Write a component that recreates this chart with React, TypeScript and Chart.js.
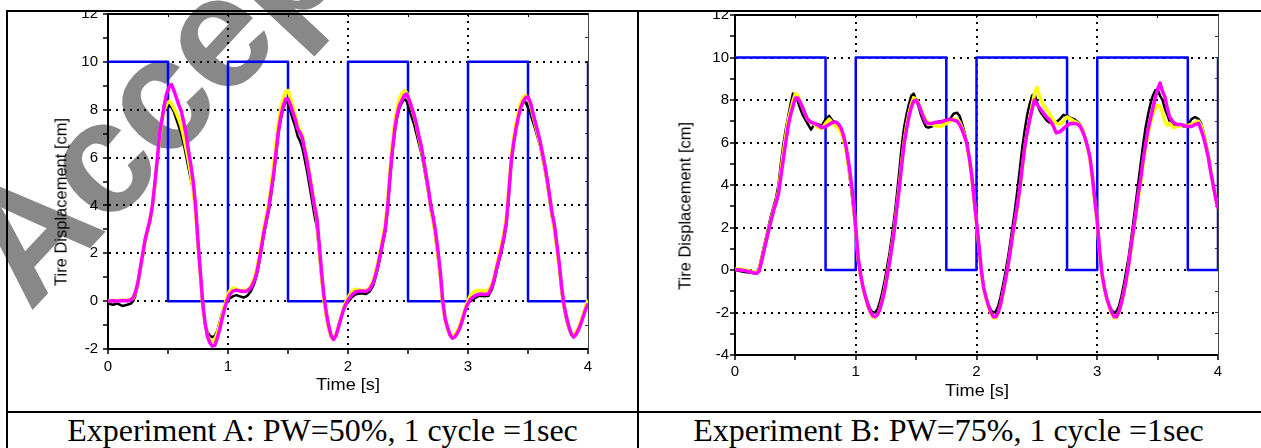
import React, { useEffect, useRef } from 'react';
import { Chart, registerables } from 'chart.js';
Chart.register(...registerables);

// ---------- Experiment A (PW = 50%) ----------
const timeA = [
  0, 0.04, 0.08, 0.12, 0.16, 0.19, 0.21, 0.23, 0.25, 0.27, 0.29, 0.31, 0.33, 0.35, 0.37, 0.39, 0.41, 0.43, 0.45, 0.47,
  0.49, 0.51, 0.53, 0.55, 0.57, 0.59, 0.61, 0.63, 0.65, 0.67, 0.69, 0.71, 0.73, 0.75, 0.77, 0.79, 0.81, 0.83, 0.85, 0.87,
  0.89, 0.91, 0.93, 0.95, 0.97, 0.99,
  1.01, 1.04, 1.07, 1.1, 1.13, 1.16, 1.19, 1.22, 1.24, 1.26, 1.28, 1.3, 1.32, 1.34, 1.36, 1.38, 1.4, 1.42, 1.44, 1.46,
  1.48, 1.5, 1.52, 1.54, 1.56, 1.58, 1.6, 1.62, 1.64, 1.66, 1.68, 1.7, 1.72, 1.74, 1.76, 1.78, 1.8, 1.82, 1.84, 1.86,
  1.88, 1.9, 1.92, 1.94, 1.96, 1.98,
  2.0, 2.03, 2.06, 2.09, 2.12, 2.15, 2.18, 2.21, 2.23, 2.25, 2.27, 2.29, 2.31, 2.33, 2.35, 2.37, 2.39, 2.41, 2.43, 2.45,
  2.47, 2.49, 2.51, 2.53, 2.55, 2.57, 2.59, 2.61, 2.63, 2.65, 2.67, 2.69, 2.71, 2.73, 2.75, 2.77, 2.79, 2.81, 2.83, 2.85,
  2.87, 2.89, 2.91, 2.93, 2.95, 2.97, 2.99,
  3.02, 3.05, 3.08, 3.11, 3.14, 3.17, 3.2, 3.22, 3.24, 3.26, 3.28, 3.3, 3.32, 3.34, 3.36, 3.38, 3.4, 3.42, 3.44, 3.46,
  3.48, 3.5, 3.52, 3.54, 3.56, 3.58, 3.6, 3.62, 3.64, 3.66, 3.68, 3.7, 3.72, 3.74, 3.76, 3.78, 3.8, 3.82, 3.84, 3.86,
  3.88, 3.9, 3.92, 3.94, 3.96, 3.98, 4.0,
];
const magentaA = [
  0.0, 0.02, 0.0, 0.03, 0.02, 0.05, 0.15, 0.4, 0.8, 1.4, 2.0, 2.6, 3.0, 3.4, 4.0, 4.9, 5.9, 7.0, 7.6, 8.2,
  8.7, 8.95, 9.05, 8.8, 8.5, 8.2, 7.95, 7.5, 7.0, 6.3, 5.7, 5.0, 4.0, 2.5, 1.2, -0.1, -0.95, -1.5, -1.75, -1.88,
  -1.85, -1.55, -1.2, -0.75, -0.35, 0.0,
  0.25, 0.42, 0.46, 0.42, 0.4, 0.43, 0.55, 0.85, 1.2, 1.7, 2.3, 2.9, 3.4, 3.9, 4.6, 5.3, 6.2, 7.1, 7.7, 8.15,
  8.45, 8.45, 8.2, 7.9, 7.6, 7.2, 7.05, 6.8, 6.3, 5.8, 5.2, 4.6, 4.0, 3.5, 2.4, 1.2, 0.2, -0.5, -1.05, -1.45,
  -1.6, -1.45, -1.1, -0.75, -0.4, -0.15,
  0.05, 0.25, 0.38, 0.42, 0.42, 0.4, 0.5, 0.75, 1.1, 1.5, 2.0, 2.5, 3.0, 3.9, 5.2, 6.3, 7.2, 7.8, 8.2, 8.4,
  8.6, 8.65, 8.4, 8.1, 7.8, 7.4, 6.9, 6.5, 5.9, 5.3, 4.7, 4.0, 3.5, 2.9, 2.1, 1.2, 0.0, -0.75, -1.1, -1.4,
  -1.55, -1.5, -1.35, -1.15, -0.85, -0.5, -0.2,
  0.08, 0.2, 0.28, 0.3, 0.28, 0.3, 0.6, 0.95, 1.4, 1.8, 2.2, 2.7, 3.3, 4.5, 5.8, 6.6, 7.2, 7.7, 8.1, 8.35,
  8.5, 8.55, 8.3, 7.9, 7.5, 7.1, 6.7, 6.2, 5.7, 5.1, 4.4, 3.7, 3.2, 2.4, 1.6, 0.6, -0.15, -0.65, -1.05, -1.35,
  -1.5, -1.4, -1.2, -0.95, -0.65, -0.35, -0.1,
];
const yellowA = [
  0.0, 0.03, 0.02, 0.04, 0.05, 0.08, 0.12, 0.35, 0.75, 1.35, 1.95, 2.55, 2.95, 3.35, 3.95, 4.85, 5.85, 6.9, 7.5, 8.0,
  8.25, 8.35, 8.25, 8.05, 7.85, 7.6, 7.3, 6.9, 6.4, 5.9, 5.3, 4.6, 3.7, 2.4, 1.1, -0.2, -0.95, -1.45, -1.65, -1.7,
  -1.6, -1.35, -1.0, -0.6, -0.2, 0.15,
  0.4, 0.55, 0.5, 0.45, 0.45, 0.48, 0.6, 0.95, 1.35, 1.9, 2.5, 3.1, 3.6, 4.1, 4.9, 5.7, 6.6, 7.5, 8.1, 8.5,
  8.75, 8.8, 8.5, 8.15, 7.8, 7.4, 7.15, 6.9, 6.4, 5.9, 5.3, 4.7, 4.05, 3.4, 2.2, 1.0, 0.0, -0.65, -1.15, -1.5,
  -1.6, -1.4, -1.05, -0.7, -0.35, -0.05,
  0.15, 0.4, 0.5, 0.48, 0.45, 0.45, 0.55, 0.85, 1.2, 1.65, 2.15, 2.7, 3.2, 4.2, 5.5, 6.6, 7.5, 8.1, 8.5, 8.7,
  8.8, 8.7, 8.4, 8.1, 7.75, 7.35, 6.85, 6.4, 5.85, 5.25, 4.6, 3.9, 3.3, 2.7, 1.9, 1.0, -0.2, -0.8, -1.15, -1.4,
  -1.45, -1.4, -1.25, -1.05, -0.75, -0.4, -0.1,
  0.25, 0.4, 0.45, 0.45, 0.42, 0.45, 0.7, 1.05, 1.5, 1.95, 2.4, 2.9, 3.5, 4.7, 6.0, 6.8, 7.4, 7.9, 8.3, 8.5,
  8.6, 8.5, 8.2, 7.8, 7.4, 7.0, 6.6, 6.1, 5.6, 5.0, 4.3, 3.6, 3.0, 2.2, 1.4, 0.5, -0.2, -0.7, -1.1, -1.35,
  -1.4, -1.3, -1.1, -0.85, -0.55, -0.2, 0.05,
];
const blackA = [
  -0.1, -0.15, -0.1, -0.2, -0.15, -0.1, 0.0, 0.25, 0.7, 1.3, 1.9, 2.5, 2.9, 3.3, 3.9, 4.8, 5.8, 6.9, 7.6, 8.3,
  8.5, 8.15, 8.1, 7.9, 7.6, 7.3, 7.0, 6.6, 6.1, 5.6, 5.1, 4.6, 3.7, 2.3, 1.0, -0.3, -0.95, -1.3, -1.45, -1.5,
  -1.45, -1.25, -0.9, -0.5, -0.2, 0.05,
  0.1, 0.2, 0.25, 0.2, 0.15, 0.22, 0.4, 0.75, 1.1, 1.6, 2.2, 2.8, 3.3, 3.8, 4.5, 5.2, 6.1, 7.0, 7.6, 8.05,
  8.35, 8.3, 7.95, 7.6, 7.3, 6.9, 6.7, 6.4, 5.9, 5.4, 4.8, 4.2, 3.6, 3.1, 2.0, 0.9, 0.0, -0.7, -1.2, -1.5,
  -1.6, -1.4, -1.05, -0.7, -0.4, -0.15,
  -0.05, 0.15, 0.28, 0.32, 0.32, 0.3, 0.4, 0.65, 1.0, 1.4, 1.9, 2.4, 2.9, 3.8, 5.1, 6.2, 7.1, 7.7, 8.1, 8.3,
  8.45, 8.35, 8.0, 7.7, 7.4, 7.0, 6.6, 6.2, 5.7, 5.1, 4.5, 3.8, 3.3, 2.6, 1.8, 0.9, -0.2, -0.8, -1.2, -1.45,
  -1.55, -1.5, -1.3, -1.1, -0.8, -0.45, -0.15,
  0.0, 0.1, 0.2, 0.22, 0.2, 0.22, 0.5, 0.85, 1.3, 1.7, 2.1, 2.6, 3.2, 4.4, 5.7, 6.6, 7.3, 7.8, 8.15, 8.35,
  8.3, 8.1, 7.85, 7.5, 7.2, 6.85, 6.5, 6.0, 5.5, 4.9, 4.2, 3.5, 3.0, 2.2, 1.4, 0.4, -0.3, -0.8, -1.15, -1.4,
  -1.5, -1.35, -1.15, -0.9, -0.6, -0.3, -0.05,
];
const squareTimeA = [0, 0.5, 0.5, 1, 1, 1.5, 1.5, 2, 2, 2.5, 2.5, 3, 3, 3.5, 3.5, 4, 4];
const squareA = [10, 10, 0, 0, 10, 10, 0, 0, 10, 10, 0, 0, 10, 10, 0, 0, 10];

// ---------- Experiment B (PW = 75%) ----------
const timeB = [
  0, 0.04, 0.08, 0.12, 0.16, 0.18, 0.2, 0.22, 0.24, 0.26, 0.28, 0.3, 0.32, 0.34, 0.36, 0.38, 0.4, 0.42, 0.44, 0.46,
  0.48, 0.5, 0.52, 0.54, 0.56, 0.58, 0.6, 0.63, 0.66, 0.69, 0.72, 0.75, 0.78, 0.81, 0.84, 0.86, 0.88, 0.9, 0.92, 0.94,
  0.96, 0.98,
  1.0, 1.02, 1.04, 1.06, 1.08, 1.1, 1.12, 1.14, 1.16, 1.18, 1.2, 1.22, 1.24, 1.26, 1.28, 1.3, 1.32, 1.34, 1.36, 1.38,
  1.4, 1.42, 1.44, 1.46, 1.48, 1.5, 1.52, 1.54, 1.56, 1.58, 1.6, 1.63, 1.66, 1.69, 1.72, 1.75, 1.78, 1.81, 1.84, 1.86,
  1.88, 1.9, 1.92, 1.94, 1.96, 1.98,
  2.0, 2.02, 2.04, 2.06, 2.08, 2.1, 2.12, 2.14, 2.16, 2.18, 2.2, 2.22, 2.24, 2.26, 2.28, 2.3, 2.32, 2.34, 2.36, 2.38,
  2.4, 2.42, 2.44, 2.46, 2.48, 2.5, 2.52, 2.54, 2.56, 2.58, 2.6, 2.63, 2.66, 2.69, 2.72, 2.75, 2.78, 2.81, 2.84, 2.86,
  2.88, 2.9, 2.92, 2.94, 2.96, 2.98,
  3.0, 3.02, 3.04, 3.06, 3.08, 3.1, 3.12, 3.14, 3.16, 3.18, 3.2, 3.22, 3.24, 3.26, 3.28, 3.3, 3.32, 3.34, 3.36, 3.38,
  3.4, 3.42, 3.44, 3.46, 3.48, 3.5, 3.52, 3.54, 3.56, 3.58, 3.6, 3.63, 3.66, 3.69, 3.72, 3.75, 3.78, 3.81, 3.84, 3.86,
  3.88, 3.9, 3.92, 3.94, 3.96, 3.98, 4.0,
];
const magentaB = [
  0.03, 0.0, -0.03, -0.08, -0.14, -0.16, -0.05, 0.4, 0.9, 1.4, 1.9, 2.35, 2.8, 3.15, 3.6, 4.4, 5.2, 6.0, 6.75, 7.3,
  7.7, 8.1, 8.1, 7.9, 7.65, 7.35, 7.1, 6.95, 6.9, 6.8, 6.7, 6.75, 6.85, 6.95, 6.95, 6.85, 6.65, 6.3, 5.8, 5.1,
  4.25, 3.3,
  2.0, 0.6, -0.2, -0.8, -1.25, -1.65, -1.95, -2.15, -2.2, -2.1, -1.85, -1.45, -0.95, -0.3, 0.35, 1.1, 1.9, 2.9, 3.8, 4.9,
  5.9, 6.6, 7.2, 7.65, 7.95, 8.0, 7.8, 7.5, 7.2, 6.95, 6.9, 6.9, 6.95, 6.95, 7.0, 7.05, 7.1, 7.05, 7.0, 6.85,
  6.6, 6.3, 5.95, 5.3, 4.5, 3.4,
  2.3, 1.2, 0.0, -0.85, -1.3, -1.7, -2.0, -2.2, -2.2, -2.0, -1.6, -1.05, -0.45, 0.15, 0.9, 1.7, 2.4, 3.1, 3.9, 4.9,
  5.8, 6.5, 7.05, 7.55, 8.0, 7.8, 7.65, 7.5, 7.35, 7.2, 7.1, 6.85, 6.45, 6.5, 6.65, 6.8, 6.9, 6.9, 6.85, 6.75,
  6.5, 6.2, 5.8, 5.3, 4.4, 3.3,
  2.3, 0.9, -0.2, -0.85, -1.35, -1.7, -2.0, -2.2, -2.2, -1.95, -1.55, -1.05, -0.45, 0.25, 1.1, 1.9, 2.7, 3.6, 4.3, 5.2,
  5.9, 6.6, 7.1, 7.6, 8.1, 8.5, 8.8, 8.4, 8.15, 7.6, 7.2, 6.95, 6.85, 6.85, 6.8, 6.75, 6.75, 6.85, 6.9, 6.6,
  6.25, 5.8, 5.3, 4.6, 4.0, 3.4, 2.9,
];
const yellowB = [
  0.05, 0.05, 0.0, -0.05, -0.1, -0.12, 0.0, 0.45, 0.95, 1.45, 1.95, 2.4, 2.85, 3.2, 3.7, 4.6, 5.5, 6.3, 7.0, 7.5,
  7.95, 8.3, 8.2, 7.95, 7.65, 7.35, 7.1, 6.95, 6.85, 6.7, 6.65, 6.9, 7.1, 6.9, 6.75, 6.6, 6.45, 6.1, 5.6, 4.9,
  4.1, 3.2,
  1.9, 0.5, -0.25, -0.85, -1.3, -1.7, -2.0, -2.2, -2.25, -2.1, -1.85, -1.4, -0.9, -0.25, 0.4, 1.15, 1.95, 2.95, 3.9, 5.0,
  6.0, 6.75, 7.35, 7.8, 8.1, 8.05, 7.85, 7.55, 7.3, 7.05, 6.95, 6.85, 6.8, 6.75, 6.8, 6.9, 7.0, 7.1, 7.1, 6.95,
  6.7, 6.35, 5.9, 5.2, 4.4, 3.3,
  2.2, 1.1, -0.1, -0.9, -1.35, -1.75, -2.05, -2.25, -2.25, -2.05, -1.65, -1.1, -0.5, 0.1, 0.85, 1.6, 2.3, 3.0, 3.8, 4.8,
  5.7, 6.5, 7.1, 7.7, 8.3, 8.6, 8.2, 7.9, 7.7, 7.55, 7.4, 7.1, 6.9, 6.85, 7.0, 7.2, 7.1, 7.0, 6.9, 6.8,
  6.55, 6.2, 5.75, 5.2, 4.3, 3.2,
  2.2, 0.8, -0.3, -0.9, -1.4, -1.75, -2.05, -2.25, -2.25, -2.0, -1.6, -1.1, -0.5, 0.2, 1.0, 1.8, 2.6, 3.4, 4.1, 5.0,
  5.7, 6.4, 6.9, 7.3, 7.6, 7.75, 7.7, 7.4, 7.0, 6.8, 6.9, 6.7, 6.75, 6.8, 6.8, 6.8, 6.85, 6.95, 7.0, 6.8,
  6.4, 5.9, 5.4, 4.7, 4.0, 3.4, 2.9,
];
const blackB = [
  0.0, -0.05, -0.1, -0.12, -0.15, -0.1, 0.1, 0.6, 1.1, 1.6, 2.1, 2.6, 3.0, 3.4, 4.0, 5.0, 5.9, 6.6, 7.2, 7.8,
  8.3, 8.15, 7.95, 7.6, 7.3, 7.1, 6.9, 6.6, 6.9, 6.85, 6.8, 7.1, 7.25, 7.0, 6.95, 6.8, 6.6, 6.2, 5.6, 4.8,
  3.9, 2.9,
  1.8, 0.5, -0.3, -0.8, -1.2, -1.55, -1.85, -2.0, -2.0, -1.85, -1.5, -1.05, -0.5, 0.15, 0.8, 1.6, 2.5, 3.5, 4.6, 5.8,
  6.7, 7.3, 7.8, 8.2, 8.3, 8.0, 7.7, 7.3, 7.0, 6.75, 6.7, 6.75, 6.9, 7.0, 6.95, 7.05, 7.1, 7.35, 7.4, 7.25,
  6.9, 6.5, 6.0, 5.2, 4.3, 3.2,
  2.1, 1.0, -0.1, -0.9, -1.3, -1.65, -1.9, -2.0, -1.95, -1.7, -1.25, -0.7, -0.1, 0.55, 1.3, 2.1, 2.9, 3.8, 4.8, 5.8,
  6.6, 7.3, 7.8, 8.2, 8.3, 7.9, 7.55, 7.35, 7.2, 7.05, 6.95, 6.9, 6.95, 7.1, 7.3, 7.25, 7.15, 7.1, 6.95, 6.85,
  6.6, 6.25, 5.8, 5.2, 4.3, 3.2,
  2.2, 0.8, -0.3, -0.9, -1.35, -1.65, -1.9, -2.0, -1.95, -1.7, -1.25, -0.7, -0.05, 0.6, 1.4, 2.3, 3.2, 4.1, 5.0, 5.9,
  6.7, 7.3, 7.8, 8.2, 8.45, 8.5, 8.2, 8.0, 7.6, 7.3, 7.0, 6.85, 6.8, 6.8, 6.75, 6.8, 7.1, 7.2, 7.1, 6.9,
  6.5, 6.0, 5.4, 4.7, 4.0, 3.4, 3.0,
];
const squareTimeB = [0, 0.75, 0.75, 1, 1, 1.75, 1.75, 2, 2, 2.75, 2.75, 3, 3, 3.75, 3.75, 4, 4];
const squareB = [10, 10, 0, 0, 10, 10, 0, 0, 10, 10, 0, 0, 10, 10, 0, 0, 10];

// ---------- axes ----------
const xTicks = [0, 0.5, 1, 1.5, 2, 2.5, 3, 3.5, 4];
const xLabels = [0, 1, 2, 3, 4];
const xGrid = [1, 2, 3];
const yTicksA = [-2, -1, 0, 1, 2, 3, 4, 5, 6, 7, 8, 9, 10, 11, 12];
const yLabelsA = [-2, 0, 2, 4, 6, 8, 10, 12];
const yGridA = [0, 2, 4, 6, 8, 10];
const yTicksB = [-4, -3, -2, -1, 0, 1, 2, 3, 4, 5, 6, 7, 8, 9, 10, 11, 12];
const yLabelsB = [-4, -2, 0, 2, 4, 6, 8, 10, 12];
const yGridB = [-2, 0, 2, 4, 6, 8, 10];

const captionA = 'Experiment A: PW=50%, 1 cycle =1sec';
const captionB = 'Experiment B: PW=75%, 1 cycle =1sec';
const yTitle = 'Tire Displacement [cm]';
const xTitle = 'Time [s]';
const watermark = 'Accepted Manuscript';

const SANS = "Arial, 'Liberation Sans', Helvetica, sans-serif";
const SERIF = "'Times New Roman', 'Liberation Serif', serif";

function pts(t: number[], v: number[]) {
  const n = Math.min(t.length, v.length);
  const out: { x: number; y: number }[] = [];
  for (let i = 0; i < n; i++) out.push({ x: t[i], y: v[i] });
  return out;
}

interface Spec {
  time: number[];
  black: number[];
  yellow: number[];
  magenta: number[];
  sqT: number[];
  sq: number[];
  yMin: number;
  yMax: number;
  yTicks: number[];
  yLabels: number[];
  yGrid: number[];
  yAxisW: number;
  xAxisH: number;
  padTop: number;
  padRight: number;
  yPad: number;
  xPad: number;
}

function makeChart(canvas: HTMLCanvasElement, s: Spec) {
  const font = { family: SANS, size: 15 };
  const dash = [2, 5];
  return new Chart(canvas, {
    type: 'line',
    data: {
      datasets: [
        { data: pts(s.sqT, s.sq), borderColor: '#0000ff', borderWidth: 2.5, order: 3, xAxisID: 'x', yAxisID: 'y' },
        { data: pts(s.time, s.black), borderColor: '#000000', borderWidth: 2.5, order: 2, xAxisID: 'x', yAxisID: 'y' },
        { data: pts(s.time, s.yellow), borderColor: '#ffff00', borderWidth: 3.5, order: 1, xAxisID: 'x', yAxisID: 'y' },
        { data: pts(s.time, s.magenta), borderColor: '#ff00ff', borderWidth: 3.5, order: 0, xAxisID: 'x', yAxisID: 'y' },
      ] as any,
    },
    options: {
      animation: false,
      responsive: false,
      maintainAspectRatio: false,
      devicePixelRatio: 1,
      events: [],
      layout: { padding: { left: 0, top: s.padTop, right: s.padRight, bottom: 0 } },
      plugins: { legend: { display: false }, tooltip: { enabled: false }, title: { display: false } },
      elements: {
        point: { radius: 0, hoverRadius: 0 },
        line: { tension: 0, borderJoinStyle: 'round', borderCapStyle: 'butt', fill: false },
      },
      scales: {
        x: {
          type: 'linear',
          position: 'bottom',
          min: 0,
          max: 4,
          afterBuildTicks: (sc: any) => {
            sc.ticks = xTicks.map((v) => ({ value: v }));
          },
          afterFit: (sc: any) => {
            sc.height = s.xAxisH;
          },
          ticks: {
            autoSkip: false,
            maxRotation: 0,
            padding: s.xPad,
            font,
            color: '#000',
            callback: (v: any) => (xLabels.includes(v) ? String(v) : ''),
          },
          grid: {
            color: (c: any) => (c.tick && xGrid.includes(c.tick.value) ? '#000' : 'rgba(0,0,0,0)'),
            lineWidth: 2,
            tickLength: 5,
            tickColor: '#000',
            tickWidth: 1.5,
          },
          border: { display: true, color: '#000', width: 2, dash },
        },
        xTop: {
          type: 'linear',
          position: 'top',
          min: 0,
          max: 4,
          afterBuildTicks: (sc: any) => {
            sc.ticks = xTicks.map((v) => ({ value: v }));
          },
          afterFit: (sc: any) => {
            sc.height = 0;
          },
          ticks: { display: false },
          grid: { drawOnChartArea: false, tickLength: -3, tickColor: '#000', tickWidth: 1 },
          border: { display: true, color: '#000', width: 2 },
        },
        y: {
          type: 'linear',
          position: 'left',
          min: s.yMin,
          max: s.yMax,
          afterBuildTicks: (sc: any) => {
            sc.ticks = s.yTicks.map((v) => ({ value: v }));
          },
          afterFit: (sc: any) => {
            sc.width = s.yAxisW;
          },
          ticks: {
            autoSkip: false,
            padding: s.yPad,
            font,
            color: '#000',
            callback: (v: any) => (s.yLabels.includes(v) ? String(v) : ''),
          },
          grid: {
            color: (c: any) => (c.tick && s.yGrid.includes(c.tick.value) ? '#000' : 'rgba(0,0,0,0)'),
            lineWidth: 2,
            tickLength: 5,
            tickColor: '#000',
            tickWidth: 1.5,
          },
          border: { display: true, color: '#000', width: 2, dash },
        },
        yRight: {
          type: 'linear',
          position: 'right',
          min: s.yMin,
          max: s.yMax,
          afterBuildTicks: (sc: any) => {
            sc.ticks = s.yTicks.map((v) => ({ value: v }));
          },
          afterFit: (sc: any) => {
            sc.width = 0;
          },
          ticks: { display: false },
          grid: { drawOnChartArea: false, tickLength: -3, tickColor: '#333', tickWidth: 1 },
          border: { display: true, color: '#444', width: 1 },
        },
      } as any,
    } as any,
  });
}

const specA: Spec = {
  time: timeA, black: blackA, yellow: yellowA, magenta: magentaA, sqT: squareTimeA, sq: squareA,
  yMin: -2, yMax: 12, yTicks: yTicksA, yLabels: yLabelsA, yGrid: yGridA,
  yAxisW: 100, xAxisH: 62, padTop: 14, padRight: 49, yPad: 5, xPad: 4,
};
const specB: Spec = {
  time: timeB, black: blackB, yellow: yellowB, magenta: magentaB, sqT: squareTimeB, sq: squareB,
  yMin: -4, yMax: 12, yTicks: yTicksB, yLabels: yLabelsB, yGrid: yGridB,
  yAxisW: 96, xAxisH: 56, padTop: 15, padRight: 43, yPad: 1, xPad: 3,
};

const abs = (o: React.CSSProperties): React.CSSProperties => ({ position: 'absolute', ...o });

export default function App() {
  const refA = useRef<HTMLCanvasElement | null>(null);
  const refB = useRef<HTMLCanvasElement | null>(null);

  useEffect(() => {
    const a = refA.current ? makeChart(refA.current, specA) : null;
    const b = refB.current ? makeChart(refB.current, specB) : null;
    return () => {
      if (a) a.destroy();
      if (b) b.destroy();
    };
  }, []);

  const line = (o: React.CSSProperties) => <div style={abs({ background: '#000', ...o })} />;
  const yTitleStyle = (cx: number, cy: number): React.CSSProperties =>
    abs({
      left: cx, top: cy, transform: 'translate(-50%, -50%) rotate(-90deg)', whiteSpace: 'nowrap',
      fontFamily: SANS, fontSize: 16.5, lineHeight: '19px', color: '#000',
    });
  const xTitleStyle = (cx: number, cy: number): React.CSSProperties =>
    abs({
      left: cx, top: cy, transform: 'translate(-50%, -50%) scaleX(1.1)', whiteSpace: 'nowrap',
      fontFamily: SANS, fontSize: 16.5, lineHeight: '19px', color: '#000',
    });
  const capStyle = (left: number, width: number): React.CSSProperties =>
    abs({
      left, width, top: 414, textAlign: 'center', whiteSpace: 'nowrap',
      fontFamily: SERIF, fontSize: 32, lineHeight: '32px', color: '#000',
    });

  return (
    <div style={{ position: 'fixed', left: 0, top: 0, width: 1261, height: 448, background: '#fff', overflow: 'hidden' }}>
      <div
        style={abs({
          left: -69, top: 221, transformOrigin: '0 0', transform: 'rotate(-47deg)', whiteSpace: 'nowrap',
          fontFamily: SANS, fontWeight: 'bold', fontSize: 160, lineHeight: '160px', letterSpacing: -3,
          color: '#888888',
        })}
      >
        {watermark}
      </div>

      <div style={abs({ left: 8, top: 12, width: 629, height: 399, overflow: 'hidden' })}>
        <canvas ref={refA} width={629} height={411} style={abs({ left: 0, top: -12, width: 629, height: 411 })} />
      </div>
      <div style={abs({ left: 639, top: 12, width: 622, height: 399, overflow: 'hidden' })}>
        <canvas ref={refB} width={622} height={411} style={abs({ left: 0, top: -12, width: 622, height: 411 })} />
      </div>

      <div style={yTitleStyle(61, 202)}>{yTitle}</div>
      <div style={yTitleStyle(685, 206)}>{yTitle}</div>
      <div style={xTitleStyle(348, 384)}>{xTitle}</div>
      <div style={xTitleStyle(977, 390)}>{xTitle}</div>

      {line({ left: 6, top: 10, width: 1260, height: 2 })}
      {line({ left: 6, top: 10, width: 2, height: 440 })}
      {line({ left: 637, top: 10, width: 2, height: 440 })}
      {line({ left: 6, top: 411, width: 1260, height: 2 })}

      <div style={capStyle(8, 629)}>{captionA}</div>
      <div style={capStyle(639, 619)}>{captionB}</div>
    </div>
  );
}
